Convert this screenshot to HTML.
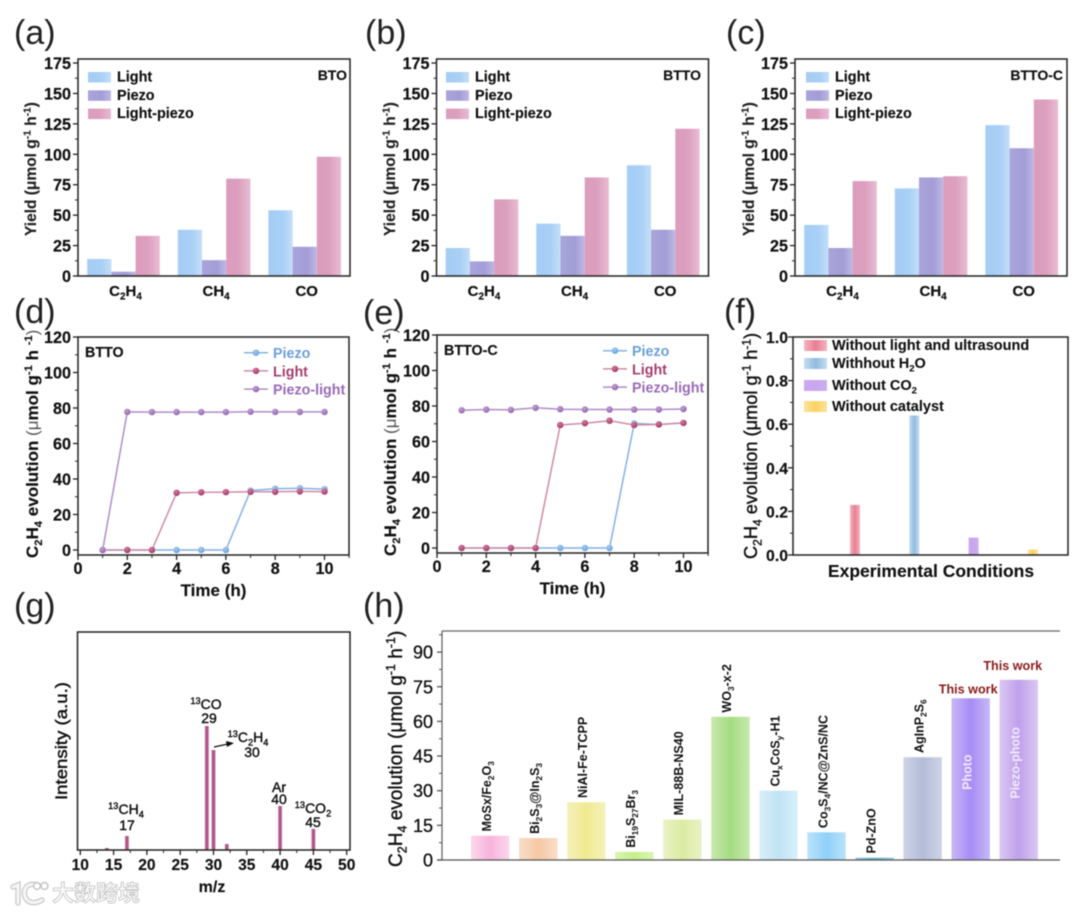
<!DOCTYPE html>
<html lang="en">
<head>
<meta charset="utf-8">
<title>Yield and C2H4 evolution charts</title>
<style>
html,body{margin:0;padding:0;background:#fff;}
#figure{display:block;width:1080px;height:913px;filter:blur(0.4px);font-family:"Liberation Sans","Noto Sans CJK SC",sans-serif;}
</style>
</head>
<body>
<svg id="figure" xmlns="http://www.w3.org/2000/svg" width="1080" height="913" viewBox="0 0 1080 913">
<defs>
<linearGradient id="g-light" x1="0" x2="1" y1="0" y2="0"><stop offset="0" stop-color="#a4cdf5"/><stop offset=".6" stop-color="#a9d0f6"/><stop offset="1" stop-color="#c4dff8"/></linearGradient>
<linearGradient id="g-piezo" x1="0" x2="1" y1="0" y2="0"><stop offset="0" stop-color="#a9a4da"/><stop offset=".6" stop-color="#a39dd6"/><stop offset="1" stop-color="#bdb9e4"/></linearGradient>
<linearGradient id="g-lp" x1="0" x2="1" y1="0" y2="0"><stop offset="0" stop-color="#dc9dbd"/><stop offset=".5" stop-color="#dc9fbf"/><stop offset="1" stop-color="#e8bcd2"/></linearGradient>
<linearGradient id="g-f1" x1="0" x2="1" y1="0" y2="0"><stop offset="0" stop-color="#f3b5c0"/><stop offset=".5" stop-color="#e87f92"/><stop offset="1" stop-color="#f3b5c0"/></linearGradient>
<linearGradient id="g-f2" x1="0" x2="1" y1="0" y2="0"><stop offset="0" stop-color="#c5dcf0"/><stop offset=".5" stop-color="#90bce0"/><stop offset="1" stop-color="#c5dcf0"/></linearGradient>
<linearGradient id="g-f3" x1="0" x2="1" y1="0" y2="0"><stop offset="0" stop-color="#cba8f0"/><stop offset=".5" stop-color="#c9a5ee"/><stop offset="1" stop-color="#cdb0ec"/></linearGradient>
<linearGradient id="g-f4" x1="0" x2="1" y1="0" y2="0"><stop offset="0" stop-color="#fbe29a"/><stop offset=".5" stop-color="#fbd263"/><stop offset="1" stop-color="#fbe29a"/></linearGradient>
<linearGradient id="g-ms" x1="0" x2="1" y1="0" y2="0"><stop offset="0" stop-color="#c987ad"/><stop offset=".5" stop-color="#a8437b"/><stop offset="1" stop-color="#c987ad"/></linearGradient>
<radialGradient id="m-piezo" cx=".4" cy=".35" r=".7"><stop offset="0" stop-color="#a9cdf0"/><stop offset="1" stop-color="#5b9bdc"/></radialGradient>
<radialGradient id="m-light" cx=".4" cy=".35" r=".7"><stop offset="0" stop-color="#d47ca0"/><stop offset="1" stop-color="#9c2d60"/></radialGradient>
<radialGradient id="m-pl" cx=".4" cy=".35" r=".7"><stop offset="0" stop-color="#c4a2d8"/><stop offset="1" stop-color="#8a5ca8"/></radialGradient>
</defs>
</svg>
<script>
// ---------- chart data ----------
const yieldCategories = ['C_{2}H_{4}', 'CH_{4}', 'CO'];
const yieldSeriesNames = ['Light', 'Piezo', 'Light-piezo'];
const yieldTicks = [0, 25, 50, 75, 100, 125, 150, 175];
const btoLight = [14, 38, 54];
const btoPiezo = [3.5, 13, 24];
const btoLightPiezo = [33, 80, 98];
const bttoLight = [23, 43, 91];
const bttoPiezo = [12, 33, 38];
const bttoLightPiezo = [63, 81, 121];
const bttoCLight = [42, 72, 124];
const bttoCPiezo = [23, 81, 105];
const bttoCLightPiezo = [78, 82, 145];

const timeHours = [1, 2, 3, 4, 5, 6, 7, 8, 9, 10];
const timeTicks = [0, 2, 4, 6, 8, 10];
const evolutionTicks = [0, 20, 40, 60, 80, 100, 120];
const lineSeriesNames = ['Piezo', 'Light', 'Piezo-light'];
const dPiezo = [0, 0, 0, 0, 0, 0, 33.5, 34.5, 34.8, 34.3];
const dLight = [0, 0, 0, 32.2, 32.5, 32.6, 32.8, 32.8, 33, 32.9];
const dPiezoLight = [0, 77.8, 77.7, 77.7, 77.7, 77.7, 77.9, 77.8, 77.8, 77.8];
const ePiezo = [0, 0, 0, 0, 0, 0, 0, 70.2, 69.6, 70.5];
const eLight = [0, 0, 0, 0, 69.3, 70.3, 71.7, 69.3, 69.6, 70.5];
const ePiezoLight = [77.6, 78, 77.8, 79, 78.2, 78, 78, 78, 78, 78.3];

const controlConditions = ['Without light and ultrasound', 'Withhout H_{2}O', 'Without CO_{2}', 'Without catalyst'];
const controlValues = [0.23, 0.64, 0.08, 0.025];
const controlTicks = ['0.0', '0.2', '0.4', '0.6', '0.8', '1.0'];

const massTicks = [10, 15, 20, 25, 30, 35, 40, 45, 50];
const massPeaks = [14, 17, 18, 29, 30, 32, 40, 45];
const massIntensity = [1.6, 11.3, 0.4, 100, 80.6, 4.8, 35.5, 17];

const compareTicks = [0, 15, 30, 45, 60, 75, 90];
const compareNames = ['MoSx/Fe_{2}O_{3}', 'Bi_{2}S_{3}@In_{2}S_{3}', 'NiAl-Fe-TCPP', 'Bi_{19}S_{27}Br_{3}', 'MIL-88B-NS40', 'WO_{3}-x-2', 'Cu_{x}CoS_{y}-H1', 'Co_{3}S_{4}/NC@ZnS/NC', 'Pd-ZnO', 'AgInP_{2}S_{6}', 'Photo', 'Piezo-photo'];
const compareValues = [10.5, 9.5, 25, 3.5, 17.5, 62, 30, 12, 1, 44.5, 70, 78];
// ---------- end data ----------

const compareCenterColors = ['#f7b4dc', '#f5c8a6', '#f0ea90', '#c4f08a', '#dcebA0', '#a4dc80', '#bfe3f5', '#8fd0fa', '#5fb0cc', '#b4bdd8', '#a68cf5', '#c0a0ec'];
const compareEdgeColors = ['#fbd8ec', '#f9dec8', '#f5f1bc', '#d9f5b2', '#e9f2c6', '#c8e9ae', '#d9eff9', '#bae3fb', '#90cadd', '#ced4e6', '#c8b8f7', '#dac8f2'];

const NS = 'http://www.w3.org/2000/svg';
const svg = document.getElementById('figure');
const defs = svg.querySelector('defs');

function make(parent, tag, attrs) {
  const n = document.createElementNS(NS, tag);
  for (const k in attrs) n.setAttribute(k, attrs[k]);
  parent.appendChild(n);
  return n;
}

function group(name) {
  const g = make(svg, 'g', {});
  
  
  return g;
}

function shape(parent, tag, attrs, name) {
  const n = make(parent, tag, attrs);
  
  
  return n;
}

// text with _{sub}, ^{sup} and ~{thin} markup, all kept as real characters
function label(parent, x, y, str, opts, name) {
  const o = opts || {};
  const size = o.size || 15;
  const fill = o.fill || '#111';
  const attrs = {x: x, y: y, 'font-size': size, 'font-weight': o.weight || 'bold', fill: fill, 'text-anchor': o.anchor || 'start'};
  if (o.heavy) { attrs.stroke = fill; attrs['stroke-width'] = o.heavy; }
  if (o.rotate) attrs.transform = 'rotate(-90 ' + x + ' ' + y + ')';
  if (o.length) { attrs.textLength = o.length; attrs.lengthAdjust = 'spacingAndGlyphs'; }
  const t = make(parent, 'text', attrs);
  
  
  const re = /([_^~])\{([^}]*)\}|([^_^~]+)/g;
  let m, shift = 0;
  while ((m = re.exec(str))) {
    const ts = make(t, 'tspan', {});
    let target = 0;
    if (m[1] === '_') target = size * 0.24;
    if (m[1] === '^') target = -size * 0.36;
    if (m[1] === '_' || m[1] === '^') ts.setAttribute('font-size', size * 0.66);
    if (m[1] === '~') { ts.setAttribute('font-weight', 'normal'); ts.setAttribute('stroke', 'none'); ts.setAttribute('fill', '#555'); }
    if (target !== shift) ts.setAttribute('dy', target - shift);
    shift = target;
    ts.textContent = m[1] ? m[2] : m[3];
  }
  return t;
}

function panelLetter(text, x, y) {
  const g = label(svg, x, y, text, {size: 34, weight: 'normal', fill: '#222'}, 'panel-label');
  return g;
}

function frame(g, x0, y0, x1, y1) {
  shape(g, 'rect', {x: x0, y: y0, width: x1 - x0, height: y1 - y0, fill: 'none', stroke: '#222', 'stroke-width': 1.5}, 'plot-frame');
}

function yTickMarks(g, x0, ticks, scale, minorStep, len, color) {
  ticks.forEach(function (v, i) {
    const y = scale(+v);
    shape(g, 'line', {x1: x0 - len, x2: x0, y1: y, y2: y, stroke: color, 'stroke-width': 1.3}, 'y-tick');
    if (i < ticks.length - 1 || minorStep.extra) {
      const ym = scale(+v + minorStep.step);
      shape(g, 'line', {x1: x0 - len + 2, x2: x0, y1: ym, y2: ym, stroke: color, 'stroke-width': 1}, 'y-minor-tick');
    }
  });
}

// ---------- grouped bar panels (a, b, c) ----------
function yieldPanel(name, left, note, noteRight, series, legendX, ylabelX) {
  const g = group(name);
  const top = 59, bottom = 276, right = left + 272;
  const yScale = function (v) { return bottom - v * 1.217; };
  const step = 90.6, barW = 24.2, offset = 9.2;
  const xBar = function (c, s) { return left + offset + c * step + s * barW; };
  const fills = ['url(#g-light)', 'url(#g-piezo)', 'url(#g-lp)'];
  const seriesKeys = ['light', 'piezo', 'light-piezo'];
  series.forEach(function (vals, s) {
    vals.forEach(function (v, c) {
      shape(g, 'rect', {x: xBar(c, s), y: yScale(v), width: barW, height: bottom - yScale(v), fill: fills[s]}, 'bar-' + seriesKeys[s]);
    });
  });
  frame(g, left, top, right, bottom);
  yTickMarks(g, left, yieldTicks, yScale, {step: 12.5}, 5, '#222');
  yieldTicks.forEach(function (v) {
    label(g, left - 7, yScale(v) + 6, String(v), {size: 16.2, anchor: 'end', heavy: .2}, 'y-tick-label');
  });
  yieldCategories.forEach(function (c, i) {
    label(g, left + offset + i * step + 1.5 * barW + 2, 296, c, {size: 15, anchor: 'middle', heavy: .2}, 'x-category-label');
  });
  label(g, ylabelX, 236, 'Yield (μmol g^{-1} h^{-1})', {size: 15.5, rotate: true, fill: '#222', heavy: .15}, 'y-axis-title');
  yieldSeriesNames.forEach(function (n, i) {
    const y = 72 + i * 18.3;
    shape(g, 'rect', {x: legendX, y: y, width: 23, height: 10.5, fill: fills[i]}, 'legend-swatch');
    label(g, legendX + 29, y + 9.5, n, {size: 14.4, fill: '#111', heavy: .15}, 'legend-entry');
  });
  label(g, noteRight, 80, note, {size: 14, anchor: 'end', heavy: .15}, 'sample-label');
}

yieldPanel('panel-a', 78, 'BTO', 347, [btoLight, btoPiezo, btoLightPiezo], 88, 36);
yieldPanel('panel-b', 436.5, 'BTTO', 701, [bttoLight, bttoPiezo, bttoLightPiezo], 446, 395);
yieldPanel('panel-c', 795, 'BTTO-C', 1063, [bttoCLight, bttoCPiezo, bttoCLightPiezo], 806, 754);

// ---------- line panels (d, e) ----------
function linePanel(name, left, top, zeroY, note, series, legendTop, ylabelX) {
  const g = group(name);
  const bottom = top + 218, right = left + 271;
  const ky = (zeroY - top) / 120, kx = 24.65;
  const yScale = function (v) { return zeroY - v * ky; };
  const xScale = function (v) { return left + v * kx; };
  const lineCols = ['#82b2e2', '#cf8aa8', '#b08cc8'];
  const markFills = ['url(#m-piezo)', 'url(#m-light)', 'url(#m-pl)'];
  const textCols = ['#6a9fd8', '#a63f6e', '#9a6ab8'];
  const keys = ['piezo', 'light', 'piezo-light'];
  frame(g, left, top, right, bottom);
  yTickMarks(g, left, evolutionTicks, yScale, {step: 10}, 5, '#222');
  evolutionTicks.forEach(function (v) {
    label(g, left - 7, yScale(v) + 6, String(v), {size: 16.2, anchor: 'end', heavy: .2}, 'y-tick-label');
  });
  timeTicks.forEach(function (v) {
    const x = xScale(v);
    shape(g, 'line', {x1: x, x2: x, y1: bottom, y2: bottom + 5, stroke: '#222', 'stroke-width': 1.3}, 'x-tick');
    const xm = xScale(v + 1);
    shape(g, 'line', {x1: xm, x2: xm, y1: bottom, y2: bottom + 3, stroke: '#222', 'stroke-width': 1}, 'x-minor-tick');
    label(g, x, bottom + 19, String(v), {size: 16.2, anchor: 'middle', heavy: .2}, 'x-tick-label');
  });
  label(g, left + 135.5, bottom + 41, 'Time (h)', {size: 17, anchor: 'middle', heavy: .15}, 'x-axis-title');
  label(g, ylabelX, top + 221, 'C_{2}H_{4} evolution ~{ (μ}mol g^{-1} h ^{-1}~{)}', {size: 17, rotate: true, fill: '#111', heavy: .15}, 'y-axis-title');
  series.forEach(function (vals, s) {
    const pts = vals.map(function (v, i) { return xScale(timeHours[i]) + ',' + yScale(v); }).join(' ');
    shape(g, 'polyline', {points: pts, fill: 'none', stroke: lineCols[s], 'stroke-width': 1.5}, 'line-' + keys[s]);
    vals.forEach(function (v, i) {
      shape(g, 'circle', {cx: xScale(timeHours[i]), cy: yScale(v), r: 3.3, fill: markFills[s], stroke: '#fff', 'stroke-opacity': .35, 'stroke-width': .5}, 'point-' + keys[s]);
    });
  });
  lineSeriesNames.forEach(function (n, i) {
    const y = legendTop + i * 18.2;
    const lx = left + 166;
    shape(g, 'line', {x1: lx, x2: lx + 24, y1: y, y2: y, stroke: lineCols[i], 'stroke-width': 1.5}, 'legend-line');
    shape(g, 'circle', {cx: lx + 12, cy: y, r: 3.2, fill: markFills[i]}, 'legend-marker');
    label(g, lx + 29, y + 5.5, n, {size: 14.3, fill: textCols[i]}, 'legend-entry');
  });
  label(g, left + 7, top + 20, note, {size: 14.3, fill: '#111', heavy: .15}, 'sample-label');
}

linePanel('panel-d', 78, 337, 550, 'BTTO', [dPiezo, dLight, dPiezoLight], 352.7, 38);
linePanel('panel-e', 437, 335, 548, 'BTTO-C', [ePiezo, eLight, ePiezoLight], 350.7, 396);

// ---------- control experiments (f) ----------
(function () {
  const g = group('panel-f');
  const left = 793, right = 1068, top = 337, bottom = 555;
  const yScale = function (v) { return bottom - v * 218; };
  const xScale = function (i) { return 855 + i * 59.3; };
  const fills = ['url(#g-f1)', 'url(#g-f2)', 'url(#g-f3)', 'url(#g-f4)'];
  controlValues.forEach(function (v, i) {
    shape(g, 'rect', {x: xScale(i) - 5, y: yScale(v), width: 10, height: bottom - yScale(v), fill: fills[i]}, 'bar-condition');
  });
  frame(g, left, top, right, bottom);
  yTickMarks(g, left, controlTicks, yScale, {step: 0.1}, 5, '#222');
  controlTicks.forEach(function (v) {
    label(g, 788, yScale(+v) + 6, v, {size: 15.8, anchor: 'end', fill: '#111', heavy: .15}, 'y-tick-label');
  });
  const legendY = [340, 358, 380, 401];
  controlConditions.forEach(function (n, i) {
    shape(g, 'rect', {x: 804, y: legendY[i], width: 23, height: 11, fill: fills[i]}, 'legend-swatch');
    label(g, 832, legendY[i] + 10, n, {size: 14.5, fill: '#111', heavy: .1}, 'legend-entry');
  });
  label(g, 931, 577, 'Experimental Conditions', {size: 17.5, anchor: 'middle', fill: '#111', heavy: .1}, 'x-axis-title');
  label(g, 757, 559, 'C_{2}H_{4} evolution (μmol g^{-1} h^{-1})', {size: 18.2, weight: 'normal', rotate: true, fill: '#111', heavy: .4}, 'y-axis-title');
})();

// ---------- mass spectrum (g) ----------
(function () {
  const g = group('panel-g');
  const left = 77.5, right = 350, top = 632, bottom = 850;
  const xScale = function (v) { return 80.3 + (v - 10) * 6.66; };
  const yScale = function (v) { return bottom - v * 1.24; };
  massPeaks.forEach(function (p, i) {
    shape(g, 'rect', {x: xScale(p) - 2, y: yScale(massIntensity[i]), width: 4, height: bottom - yScale(massIntensity[i]), fill: 'url(#g-ms)'}, 'peak-mz-' + p);
  });
  frame(g, left, top, right, bottom);
  massTicks.forEach(function (v, i) {
    const x = xScale(v);
    shape(g, 'line', {x1: x, x2: x, y1: bottom, y2: bottom + 5, stroke: '#222', 'stroke-width': 1.3}, 'x-tick');
    if (i < massTicks.length - 1) {
      const xm = xScale(v + 2.5);
      shape(g, 'line', {x1: xm, x2: xm, y1: bottom, y2: bottom + 3, stroke: '#222', 'stroke-width': 1}, 'x-minor-tick');
    }
    label(g, x, 870, String(v), {size: 15.6, anchor: 'middle', fill: '#111', heavy: .15}, 'x-tick-label');
  });
  label(g, 212, 892, 'm/z', {size: 16, anchor: 'middle', fill: '#111', heavy: .15}, 'x-axis-title');
  label(g, 67, 800, 'Intensity (a.u.)', {size: 17, weight: 'normal', rotate: true, fill: '#111', length: 118, heavy: .45}, 'y-axis-title');
  const o = {size: 14, anchor: 'middle', weight: 'normal', fill: '#111', heavy: .4};
  label(g, 206, 709, '^{13}CO', o, 'peak-label');
  label(g, 209, 723, '29', o, 'peak-value');
  label(g, 248, 742, '^{13}C_{2}H_{4}', o, 'peak-label');
  label(g, 252, 757, '30', o, 'peak-value');
  label(g, 279, 792, 'Ar', o, 'peak-label');
  label(g, 279, 804, '40', o, 'peak-value');
  label(g, 313, 813, '^{13}CO_{2}', o, 'peak-label');
  label(g, 313, 827, '45', o, 'peak-value');
  label(g, 126, 814, '^{13}CH_{4}', o, 'peak-label');
  label(g, 127, 830, '17', o, 'peak-value');
  shape(g, 'line', {x1: 214, y1: 747, x2: 228, y2: 744, stroke: '#111', 'stroke-width': 1.2}, 'annotation-arrow-shaft');
  shape(g, 'polygon', {points: '234,743 226,741 227,747', fill: '#111'}, 'annotation-arrow-head');
})();

// ---------- literature comparison (h) ----------
(function () {
  const g = group('panel-h');
  const left = 442, right = 1060, top = 631, bottom = 860;
  const yScale = function (v) { return bottom - v * 2.31; };
  const xScale = function (i) { return 471 + i * 48.05; };
  const barW = 38.4;
  compareValues.forEach(function (v, i) {
    const id = 'h-bar-' + i;
    const lg = make(defs, 'linearGradient', {id: id, x1: 0, x2: 1, y1: 0, y2: 0});
    make(lg, 'stop', {offset: 0, 'stop-color': compareEdgeColors[i]});
    make(lg, 'stop', {offset: .5, 'stop-color': compareCenterColors[i]});
    make(lg, 'stop', {offset: 1, 'stop-color': compareEdgeColors[i]});
    shape(g, 'rect', {x: xScale(i), y: yScale(v), width: barW, height: bottom - yScale(v), fill: 'url(#' + id + ')'}, 'bar-catalyst');
  });
  shape(g, 'line', {x1: left, x2: right, y1: top, y2: top, stroke: '#666', 'stroke-width': 1.3}, 'top-axis');
  shape(g, 'line', {x1: left - 5, x2: right, y1: bottom, y2: bottom, stroke: '#555', 'stroke-width': 1.3}, 'x-axis');
  shape(g, 'line', {x1: left, x2: left, y1: top, y2: bottom, stroke: '#666', 'stroke-width': 1.3}, 'y-axis');
  yTickMarks(g, left, compareTicks, yScale, {step: 7.5, extra: true}, 5, '#555');
  compareTicks.forEach(function (v) {
    label(g, 433, yScale(v) + 6.5, String(v), {size: 18, weight: 'normal', anchor: 'end', fill: '#111', heavy: .3}, 'y-tick-label');
  });
  label(g, 402, 867, 'C_{2}H_{4} evolution (μmol g^{-1} h^{-1})', {size: 19, weight: 'normal', rotate: true, fill: '#111', heavy: .4}, 'y-axis-title');
  compareNames.forEach(function (n, i) {
    const cx = xScale(i) + barW / 2 + 0.8;
    const topY = yScale(compareValues[i]);
    if (n === 'Photo' || n === 'Piezo-photo') {
      const mid = (topY + bottom) / 2 - 7;
      label(g, cx, mid, n, {size: 12.5, anchor: 'middle', rotate: true, fill: '#f1ebfb'}, 'bar-label');
      const isPhoto = n === 'Photo';
      label(g, xScale(i) + barW / 2 - (isPhoto ? 2.5 : 6), topY - (isPhoto ? 5 : 10), 'This work', {size: 12.6, anchor: 'middle', fill: '#8b1a1a'}, 'this-work-label');
    } else {
      label(g, cx, topY - 4.2, n, {size: 12.5, rotate: true, fill: '#111'}, 'bar-label');
    }
  });
})();

// ---------- panel letters ----------
[['(a)', 14, 44], ['(b)', 365, 44], ['(c)', 726, 44], ['(d)', 14, 323], ['(e)', 363, 324], ['(f)', 724, 323], ['(g)', 14, 617], ['(h)', 363, 617]].forEach(function (p) {
  panelLetter(p[0], p[1], p[2]);
});

// ---------- watermark ----------
(function () {
  const g = group('watermark');
  const markPath = 'M13 887 L18 885 L18 903 M38 885 C25 881 21 893 27 900 C31 904 37 903 42 900';
  shape(g, 'path', {d: markPath, fill: 'none', stroke: '#c8c8c8', 'stroke-width': 5.4, 'stroke-linecap': 'round'}, 'watermark-logo-outline');
  shape(g, 'path', {d: markPath, fill: 'none', stroke: '#f6f6f6', 'stroke-width': 3, 'stroke-linecap': 'round'}, 'watermark-logo-mark');
  shape(g, 'circle', {cx: 37, cy: 886, r: 3.4, fill: '#fff', stroke: '#c8c8c8', 'stroke-width': 1.6}, 'watermark-logo-dot');
  shape(g, 'circle', {cx: 44.5, cy: 886, r: 3.4, fill: '#fff', stroke: '#c8c8c8', 'stroke-width': 1.6}, 'watermark-logo-dot');
  const t = label(g, 52, 901, '大数跨境', {size: 22, weight: 'bold', fill: '#fbfbfb'}, 'watermark-text');
  t.setAttribute('stroke', '#c2c2c2');
  t.setAttribute('stroke-width', '0.8');
})();
</script>
</body>
</html>
